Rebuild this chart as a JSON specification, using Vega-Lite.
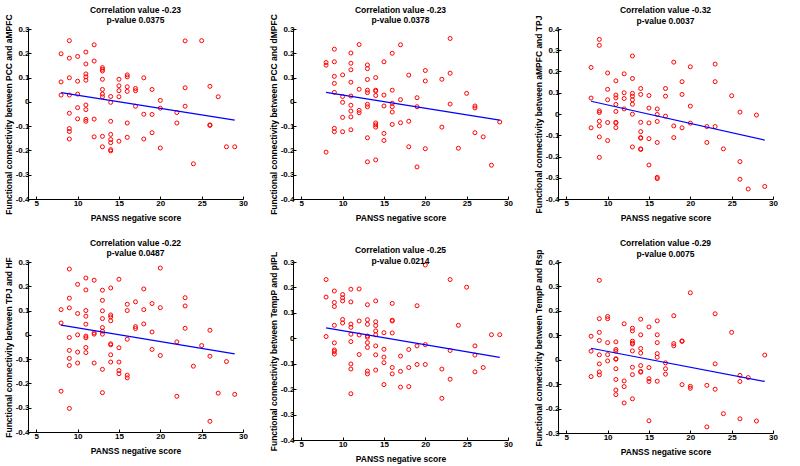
{
  "$schema": "https://vega.github.io/schema/vega-lite/v6.json",
  "padding": {"left": 4, "top": 5, "right": 2, "bottom": 2},
  "background": "white",
  "datasets": {
    "p1": [
      {"score":8,"fc":0.198},{"score":8,"fc":0.082},{"score":8,"fc":0.028},
      {"score":9,"fc":0.252},{"score":9,"fc":0.180},{"score":9,"fc":0.099},{"score":9,"fc":0.028},{"score":9,"fc":-0.047},{"score":9,"fc":-0.110},{"score":9,"fc":-0.122},{"score":9,"fc":-0.153},
      {"score":10,"fc":0.187},{"score":10,"fc":0.085},{"score":10,"fc":0.032},{"score":10,"fc":-0.024},{"score":10,"fc":-0.070},
      {"score":11,"fc":0.205},{"score":11,"fc":0.156},{"score":11,"fc":0.115},{"score":11,"fc":0.103},{"score":11,"fc":0.089},{"score":11,"fc":-0.013},{"score":11,"fc":-0.032},{"score":11,"fc":-0.072},{"score":11,"fc":-0.080},
      {"score":12,"fc":0.235},{"score":12,"fc":0.168},{"score":12,"fc":-0.071},{"score":12,"fc":-0.144},
      {"score":13,"fc":0.141},{"score":13,"fc":0.134},{"score":13,"fc":0.127},{"score":13,"fc":0.093},{"score":13,"fc":0.051},{"score":13,"fc":0.032},{"score":13,"fc":0.021},{"score":13,"fc":-0.142},{"score":13,"fc":-0.185},
      {"score":14,"fc":0.022},{"score":14,"fc":-0.002},{"score":14,"fc":-0.080},{"score":14,"fc":-0.134},{"score":14,"fc":-0.155},{"score":14,"fc":-0.168},{"score":14,"fc":-0.197},{"score":14,"fc":-0.202},
      {"score":15,"fc":0.093},{"score":15,"fc":0.066},{"score":15,"fc":0.046},{"score":15,"fc":0.021},{"score":15,"fc":-0.162},
      {"score":16,"fc":0.111},{"score":16,"fc":0.103},{"score":16,"fc":0.062},{"score":16,"fc":0.043},{"score":16,"fc":-0.087},{"score":16,"fc":-0.146},
      {"score":17,"fc":0.055},{"score":17,"fc":0.046},{"score":17,"fc":-0.018},
      {"score":18,"fc":0.099},{"score":18,"fc":-0.051},{"score":18,"fc":-0.153},
      {"score":19,"fc":0.051},{"score":19,"fc":-0.052},{"score":19,"fc":-0.127},
      {"score":20,"fc":0.006},{"score":20,"fc":-0.026},{"score":20,"fc":-0.190},
      {"score":22,"fc":-0.044},{"score":22,"fc":-0.087},
      {"score":23,"fc":0.251},{"score":23,"fc":0.058},{"score":23,"fc":-0.018},
      {"score":24,"fc":-0.255},
      {"score":25,"fc":0.252},
      {"score":26,"fc":0.064},{"score":26,"fc":-0.095},{"score":26,"fc":-0.097},
      {"score":27,"fc":0.021},
      {"score":28,"fc":-0.185},
      {"score":29,"fc":-0.185}
    ],
    "p2": [
      {"score":8,"fc":0.162},{"score":8,"fc":0.151},{"score":8,"fc":-0.207},
      {"score":9,"fc":0.217},{"score":9,"fc":0.165},{"score":9,"fc":0.105},{"score":9,"fc":0.076},{"score":9,"fc":0.039},{"score":9,"fc":-0.109},{"score":9,"fc":-0.123},
      {"score":10,"fc":0.111},{"score":10,"fc":0.022},{"score":10,"fc":-0.002},{"score":10,"fc":-0.064},{"score":10,"fc":-0.123},
      {"score":11,"fc":0.201},{"score":11,"fc":0.159},{"score":11,"fc":0.132},{"score":11,"fc":0.081},{"score":11,"fc":0.024},{"score":11,"fc":-0.014},{"score":11,"fc":-0.038},{"score":11,"fc":-0.062},{"score":11,"fc":-0.115},
      {"score":12,"fc":0.236},{"score":12,"fc":0.052},{"score":12,"fc":-0.035},{"score":12,"fc":-0.045},
      {"score":13,"fc":0.152},{"score":13,"fc":0.137},{"score":13,"fc":0.092},{"score":13,"fc":0.048},{"score":13,"fc":0.038},{"score":13,"fc":-0.010},{"score":13,"fc":-0.020},{"score":13,"fc":-0.148},{"score":13,"fc":-0.247},
      {"score":14,"fc":0.100},{"score":14,"fc":0.048},{"score":14,"fc":0.044},{"score":14,"fc":0.026},{"score":14,"fc":-0.087},{"score":14,"fc":-0.095},{"score":14,"fc":-0.104},{"score":14,"fc":-0.239},
      {"score":15,"fc":0.165},{"score":15,"fc":0.028},{"score":15,"fc":-0.017},{"score":15,"fc":-0.130},{"score":15,"fc":-0.159},
      {"score":16,"fc":0.200},{"score":16,"fc":0.048},{"score":16,"fc":-0.006},{"score":16,"fc":-0.020},{"score":16,"fc":-0.042},{"score":16,"fc":-0.093},
      {"score":17,"fc":0.235},{"score":17,"fc":0.009},{"score":17,"fc":-0.086},
      {"score":18,"fc":0.110},{"score":18,"fc":-0.080},{"score":18,"fc":-0.185},
      {"score":19,"fc":0.017},{"score":19,"fc":-0.020},{"score":19,"fc":-0.268},
      {"score":20,"fc":0.129},{"score":20,"fc":0.086},{"score":20,"fc":-0.193},
      {"score":22,"fc":0.093},{"score":22,"fc":-0.104},
      {"score":23,"fc":0.261},{"score":23,"fc":0.118},{"score":23,"fc":-0.009},
      {"score":24,"fc":-0.191},
      {"score":25,"fc":0.035},
      {"score":26,"fc":-0.017},{"score":26,"fc":-0.025},{"score":26,"fc":-0.127},
      {"score":27,"fc":-0.144},
      {"score":28,"fc":-0.261},
      {"score":29,"fc":-0.083}
    ],
    "p3": [
      {"score":8,"fc":0.219},{"score":8,"fc":0.075},{"score":8,"fc":-0.065},
      {"score":9,"fc":0.351},{"score":9,"fc":0.323},{"score":9,"fc":0.015},{"score":9,"fc":0.007},{"score":9,"fc":-0.034},{"score":9,"fc":-0.056},{"score":9,"fc":-0.108},{"score":9,"fc":-0.204},
      {"score":10,"fc":0.193},{"score":10,"fc":0.116},{"score":10,"fc":0.067},{"score":10,"fc":-0.040},{"score":10,"fc":-0.125},
      {"score":11,"fc":0.156},{"score":11,"fc":0.089},{"score":11,"fc":0.076},{"score":11,"fc":0.045},{"score":11,"fc":0.012},{"score":11,"fc":-0.039},{"score":11,"fc":-0.042},{"score":11,"fc":-0.064},
      {"score":12,"fc":0.189},{"score":12,"fc":0.100},{"score":12,"fc":0.073},{"score":12,"fc":0.024},
      {"score":13,"fc":0.273},{"score":13,"fc":0.167},{"score":13,"fc":0.097},{"score":13,"fc":0.084},{"score":13,"fc":0.067},{"score":13,"fc":0.046},{"score":13,"fc":-0.001},{"score":13,"fc":-0.155},
      {"score":14,"fc":0.120},{"score":14,"fc":0.092},{"score":14,"fc":-0.039},{"score":14,"fc":-0.083},{"score":14,"fc":-0.111},{"score":14,"fc":-0.114},{"score":14,"fc":-0.164},{"score":14,"fc":-0.167},
      {"score":15,"fc":0.087},{"score":15,"fc":0.028},{"score":15,"fc":-0.042},{"score":15,"fc":-0.116},{"score":15,"fc":-0.240},
      {"score":16,"fc":0.024},{"score":16,"fc":-0.002},{"score":16,"fc":-0.035},{"score":16,"fc":-0.134},{"score":16,"fc":-0.298},{"score":16,"fc":-0.304},
      {"score":17,"fc":0.120},{"score":17,"fc":0.084},{"score":17,"fc":-0.010},
      {"score":18,"fc":0.244},{"score":18,"fc":-0.056},{"score":18,"fc":-0.111},
      {"score":19,"fc":0.152},{"score":19,"fc":0.092},{"score":19,"fc":-0.065},
      {"score":20,"fc":0.222},{"score":20,"fc":0.037},{"score":20,"fc":-0.043},
      {"score":22,"fc":-0.059},{"score":22,"fc":-0.134},
      {"score":23,"fc":0.235},{"score":23,"fc":0.152},{"score":23,"fc":-0.059},
      {"score":24,"fc":-0.164},
      {"score":25,"fc":0.086},
      {"score":26,"fc":0.009},{"score":26,"fc":-0.224},{"score":26,"fc":-0.307},
      {"score":27,"fc":-0.353},
      {"score":28,"fc":-0.005},
      {"score":29,"fc":-0.341}
    ],
    "p4": [
      {"score":8,"fc":0.104},{"score":8,"fc":0.049},{"score":8,"fc":-0.232},
      {"score":9,"fc":0.271},{"score":9,"fc":0.151},{"score":9,"fc":0.111},{"score":9,"fc":-0.011},{"score":9,"fc":-0.064},{"score":9,"fc":-0.097},{"score":9,"fc":-0.126},{"score":9,"fc":-0.303},
      {"score":10,"fc":0.208},{"score":10,"fc":0.088},{"score":10,"fc":0.000},{"score":10,"fc":-0.071},{"score":10,"fc":-0.116},
      {"score":11,"fc":0.234},{"score":11,"fc":0.185},{"score":11,"fc":0.100},{"score":11,"fc":0.077},{"score":11,"fc":0.044},{"score":11,"fc":-0.005},{"score":11,"fc":-0.012},{"score":11,"fc":-0.052},{"score":11,"fc":-0.073},
      {"score":12,"fc":0.225},{"score":12,"fc":0.008},{"score":12,"fc":0.003},{"score":12,"fc":-0.116},
      {"score":13,"fc":0.184},{"score":13,"fc":0.142},{"score":13,"fc":0.099},{"score":13,"fc":0.067},{"score":13,"fc":0.030},{"score":13,"fc":0.015},{"score":13,"fc":0.003},{"score":13,"fc":-0.142},{"score":13,"fc":-0.238},
      {"score":14,"fc":0.193},{"score":14,"fc":0.082},{"score":14,"fc":0.074},{"score":14,"fc":0.058},{"score":14,"fc":-0.037},{"score":14,"fc":-0.041},{"score":14,"fc":-0.082},{"score":14,"fc":-0.112},
      {"score":15,"fc":0.229},{"score":15,"fc":-0.053},{"score":15,"fc":-0.112},{"score":15,"fc":-0.147},{"score":15,"fc":-0.160},
      {"score":16,"fc":0.126},{"score":16,"fc":0.100},{"score":16,"fc":-0.018},{"score":16,"fc":-0.166},{"score":16,"fc":-0.177},
      {"score":17,"fc":0.136},{"score":17,"fc":0.034},{"score":17,"fc":0.026},
      {"score":18,"fc":0.189},{"score":18,"fc":0.104},{"score":18,"fc":0.045},
      {"score":19,"fc":0.129},{"score":19,"fc":0.012},{"score":19,"fc":-0.060},
      {"score":20,"fc":0.275},{"score":20,"fc":0.112},{"score":20,"fc":-0.085},
      {"score":22,"fc":-0.029},{"score":22,"fc":-0.253},
      {"score":23,"fc":0.153},{"score":23,"fc":0.119},{"score":23,"fc":0.027},
      {"score":24,"fc":-0.129},
      {"score":25,"fc":-0.044},
      {"score":26,"fc":0.019},{"score":26,"fc":-0.088},{"score":26,"fc":-0.356},
      {"score":27,"fc":-0.240},
      {"score":28,"fc":-0.110},
      {"score":29,"fc":-0.245}
    ],
    "p5": [
      {"score":8,"fc":0.231},{"score":8,"fc":0.162},{"score":8,"fc":0.007},
      {"score":9,"fc":0.186},{"score":9,"fc":0.141},{"score":9,"fc":0.125},{"score":9,"fc":0.051},{"score":9,"fc":-0.018},{"score":9,"fc":-0.046},{"score":9,"fc":-0.052},{"score":9,"fc":-0.062},
      {"score":10,"fc":0.172},{"score":10,"fc":0.159},{"score":10,"fc":0.147},{"score":10,"fc":0.074},{"score":10,"fc":0.060},
      {"score":11,"fc":0.193},{"score":11,"fc":0.143},{"score":11,"fc":0.056},{"score":11,"fc":0.043},{"score":11,"fc":0.016},{"score":11,"fc":-0.013},{"score":11,"fc":-0.101},{"score":11,"fc":-0.121},{"score":11,"fc":-0.218},
      {"score":12,"fc":0.194},{"score":12,"fc":0.068},{"score":12,"fc":0.013},{"score":12,"fc":-0.064},
      {"score":13,"fc":0.132},{"score":13,"fc":0.073},{"score":13,"fc":0.055},{"score":13,"fc":0.009},{"score":13,"fc":0.004},{"score":13,"fc":-0.017},{"score":13,"fc":-0.036},{"score":13,"fc":-0.129},{"score":13,"fc":-0.140},
      {"score":14,"fc":0.147},{"score":14,"fc":0.065},{"score":14,"fc":0.050},{"score":14,"fc":0.029},{"score":14,"fc":0.014},{"score":14,"fc":-0.030},{"score":14,"fc":-0.065},{"score":14,"fc":-0.125},
      {"score":15,"fc":0.022},{"score":15,"fc":-0.043},{"score":15,"fc":-0.074},{"score":15,"fc":-0.096},{"score":15,"fc":-0.182},
      {"score":16,"fc":0.137},{"score":16,"fc":0.071},{"score":16,"fc":0.068},{"score":16,"fc":0.021},{"score":16,"fc":-0.115},{"score":16,"fc":-0.140},
      {"score":17,"fc":-0.070},{"score":17,"fc":-0.130},{"score":17,"fc":-0.192},
      {"score":18,"fc":-0.044},{"score":18,"fc":-0.115},{"score":18,"fc":-0.190},
      {"score":19,"fc":0.128},{"score":19,"fc":-0.030},{"score":19,"fc":-0.103},
      {"score":20,"fc":0.288},{"score":20,"fc":-0.025},{"score":20,"fc":-0.103},
      {"score":22,"fc":-0.121},{"score":22,"fc":-0.236},
      {"score":23,"fc":0.231},{"score":23,"fc":-0.048},{"score":23,"fc":-0.161},
      {"score":24,"fc":0.051},
      {"score":25,"fc":0.201},
      {"score":26,"fc":-0.030},{"score":26,"fc":-0.066},{"score":26,"fc":-0.132},
      {"score":27,"fc":-0.115},
      {"score":28,"fc":0.014},
      {"score":29,"fc":0.014}
    ],
    "p6": [
      {"score":8,"fc":0.096},{"score":8,"fc":0.035},{"score":8,"fc":-0.069},
      {"score":9,"fc":0.325},{"score":9,"fc":0.168},{"score":9,"fc":0.112},{"score":9,"fc":0.079},{"score":9,"fc":0.020},{"score":9,"fc":-0.017},{"score":9,"fc":-0.050},{"score":9,"fc":-0.062},
      {"score":10,"fc":0.177},{"score":10,"fc":0.168},{"score":10,"fc":0.070},{"score":10,"fc":0.021},{"score":10,"fc":-0.005},
      {"score":11,"fc":0.073},{"score":11,"fc":0.042},{"score":11,"fc":0.035},{"score":11,"fc":0.004},{"score":11,"fc":0.002},{"score":11,"fc":-0.037},{"score":11,"fc":-0.081},{"score":11,"fc":-0.124},{"score":11,"fc":-0.143},
      {"score":12,"fc":0.147},{"score":12,"fc":-0.087},{"score":12,"fc":-0.110},{"score":12,"fc":-0.177},
      {"score":13,"fc":0.129},{"score":13,"fc":0.118},{"score":13,"fc":0.076},{"score":13,"fc":0.068},{"score":13,"fc":0.064},{"score":13,"fc":0.036},{"score":13,"fc":-0.031},{"score":13,"fc":-0.061},{"score":13,"fc":-0.160},
      {"score":14,"fc":0.166},{"score":14,"fc":0.102},{"score":14,"fc":0.046},{"score":14,"fc":0.027},{"score":14,"fc":-0.024},{"score":14,"fc":-0.048},{"score":14,"fc":-0.051},
      {"score":15,"fc":0.134},{"score":15,"fc":-0.032},{"score":15,"fc":-0.078},{"score":15,"fc":-0.089},{"score":15,"fc":-0.250},
      {"score":16,"fc":0.159},{"score":16,"fc":0.102},{"score":16,"fc":0.070},{"score":16,"fc":0.025},{"score":16,"fc":0.010},{"score":16,"fc":-0.088},
      {"score":17,"fc":-0.013},{"score":17,"fc":-0.037},{"score":17,"fc":-0.059},
      {"score":18,"fc":0.180},{"score":18,"fc":0.066},{"score":18,"fc":0.057},
      {"score":19,"fc":0.077},{"score":19,"fc":0.075},{"score":19,"fc":-0.102},
      {"score":20,"fc":0.274},{"score":20,"fc":-0.109},{"score":20,"fc":-0.117},
      {"score":22,"fc":-0.105},{"score":22,"fc":-0.275},
      {"score":23,"fc":0.188},{"score":23,"fc":-0.017},{"score":23,"fc":-0.121},
      {"score":24,"fc":-0.221},
      {"score":25,"fc":0.112},
      {"score":26,"fc":-0.064},{"score":26,"fc":-0.089},{"score":26,"fc":-0.242},
      {"score":27,"fc":-0.073},
      {"score":28,"fc":-0.251},
      {"score":29,"fc":0.019}
    ],
    "l1": [{"score":8,"fc":0.038},{"score":29,"fc":-0.075}],
    "l2": [{"score":8,"fc":0.039},{"score":29,"fc":-0.075}],
    "l3": [{"score":8,"fc":0.060},{"score":29,"fc":-0.123}],
    "l4": [{"score":8,"fc":0.040},{"score":29,"fc":-0.078}],
    "l5": [{"score":8,"fc":0.041},{"score":29,"fc":-0.075}],
    "l6": [{"score":8,"fc":0.047},{"score":29,"fc":-0.089}]
  },
  "config": {
    "view": {"stroke": null},
    "font": "Liberation Sans",
    "axis": {
      "grid": false,
      "domainColor": "black",
      "domainWidth": 1,
      "tickColor": "black",
      "tickWidth": 1,
      "tickSize": -3,
      "labelPadding": 2,
      "labelColor": "black",
      "labelFont": "Liberation Sans",
      "labelFontWeight": "bold",
      "labelFontSize": 8,
      "labelFlush": false,
      "labelOverlap": false,
      "titleColor": "black",
      "titleFont": "Liberation Sans",
      "titleFontWeight": "bold",
      "titleFontSize": 8.5
    },
    "axisX": {"titlePadding": 6, "labelPadding": 3},
    "axisY": {"titlePadding": 2},
    "title": {
      "font": "Liberation Sans",
      "fontSize": 8.5,
      "fontWeight": "bold",
      "color": "black",
      "lineHeight": 10.5,
      "frame": "group",
      "anchor": "middle"
    }
  },
  "spacing": 16,
  "vconcat": [
    {
      "spacing": 21,
      "hconcat": [
        {
          "width": 215, "height": 170,
          "title": {"text": ["Correlation value -0.23", "p-value 0.0375"], "offset": -11},
          "layer": [
            {"data": {"name": "p1"}, "mark": {"type": "point", "shape": "circle", "filled": false, "color": "#ff0000", "size": 16, "strokeWidth": 1, "opacity": 1},
             "encoding": {
               "x": {"field": "score", "type": "quantitative", "scale": {"domain": [5, 30]}, "axis": {"values": [5, 10, 15, 20, 25, 30], "tickCount": 10, "labelOverlap": false, "title": "PANSS negative score"}},
               "y": {"field": "fc", "type": "quantitative", "scale": {"domain": [-0.4, 0.3]}, "axis": {"values": [-0.4, -0.3, -0.2, -0.1, 0, 0.1, 0.2, 0.3], "tickCount": 12, "labelOverlap": false, "labelExpr": "toString(round(datum.value*10)/10)", "title": "Functional connectivity between PCC and aMPFC"}}
             }},
            {"data": {"name": "l1"}, "mark": {"type": "line", "color": "#0000ff", "strokeWidth": 1.2},
             "encoding": {"x": {"field": "score", "type": "quantitative"}, "y": {"field": "fc", "type": "quantitative"}}}
          ]
        },
        {
          "width": 215, "height": 170,
          "title": {"text": ["Correlation value -0.23", "p-value 0.0378"], "offset": -11},
          "layer": [
            {"data": {"name": "p2"}, "mark": {"type": "point", "shape": "circle", "filled": false, "color": "#ff0000", "size": 16, "strokeWidth": 1, "opacity": 1},
             "encoding": {
               "x": {"field": "score", "type": "quantitative", "scale": {"domain": [5, 30]}, "axis": {"values": [5, 10, 15, 20, 25, 30], "tickCount": 10, "labelOverlap": false, "title": "PANSS negative score"}},
               "y": {"field": "fc", "type": "quantitative", "scale": {"domain": [-0.4, 0.3]}, "axis": {"values": [-0.4, -0.3, -0.2, -0.1, 0, 0.1, 0.2, 0.3], "tickCount": 12, "labelOverlap": false, "labelExpr": "toString(round(datum.value*10)/10)", "title": "Functional connectivity between PCC and dMPFC"}}
             }},
            {"data": {"name": "l2"}, "mark": {"type": "line", "color": "#0000ff", "strokeWidth": 1.2},
             "encoding": {"x": {"field": "score", "type": "quantitative"}, "y": {"field": "fc", "type": "quantitative"}}}
          ]
        },
        {
          "width": 215, "height": 170,
          "title": {"text": ["Correlation value -0.32", "p-value 0.0037"], "offset": -10},
          "layer": [
            {"data": {"name": "p3"}, "mark": {"type": "point", "shape": "circle", "filled": false, "color": "#ff0000", "size": 16, "strokeWidth": 1, "opacity": 1},
             "encoding": {
               "x": {"field": "score", "type": "quantitative", "scale": {"domain": [5, 30]}, "axis": {"values": [5, 10, 15, 20, 25, 30], "tickCount": 10, "labelOverlap": false, "title": "PANSS negative score"}},
               "y": {"field": "fc", "type": "quantitative", "scale": {"domain": [-0.4, 0.4]}, "axis": {"values": [-0.4, -0.3, -0.2, -0.1, 0, 0.1, 0.2, 0.3, 0.4], "tickCount": 12, "labelOverlap": false, "labelExpr": "toString(round(datum.value*10)/10)", "title": "Functional connectivity between aMPFC and TPJ"}}
             }},
            {"data": {"name": "l3"}, "mark": {"type": "line", "color": "#0000ff", "strokeWidth": 1.2},
             "encoding": {"x": {"field": "score", "type": "quantitative"}, "y": {"field": "fc", "type": "quantitative"}}}
          ]
        }
      ]
    },
    {
      "spacing": 21,
      "hconcat": [
        {
          "width": 215, "height": 170,
          "title": {"text": ["Correlation value -0.22", "p-value 0.0487"], "offset": -1},
          "layer": [
            {"data": {"name": "p4"}, "mark": {"type": "point", "shape": "circle", "filled": false, "color": "#ff0000", "size": 16, "strokeWidth": 1, "opacity": 1},
             "encoding": {
               "x": {"field": "score", "type": "quantitative", "scale": {"domain": [5, 30]}, "axis": {"values": [5, 10, 15, 20, 25, 30], "tickCount": 10, "labelOverlap": false, "title": "PANSS negative score"}},
               "y": {"field": "fc", "type": "quantitative", "scale": {"domain": [-0.4, 0.3]}, "axis": {"values": [-0.4, -0.3, -0.2, -0.1, 0, 0.1, 0.2, 0.3], "tickCount": 12, "labelOverlap": false, "labelExpr": "toString(round(datum.value*10)/10)", "title": "Functional connectivity between TPJ and HF"}}
             }},
            {"data": {"name": "l4"}, "mark": {"type": "line", "color": "#0000ff", "strokeWidth": 1.2},
             "encoding": {"x": {"field": "score", "type": "quantitative"}, "y": {"field": "fc", "type": "quantitative"}}}
          ]
        },
        {
          "width": 215, "height": 178,
          "title": {"text": ["Correlation value -0.25", "p-value 0.0214"], "offset": -14},
          "layer": [
            {"data": {"name": "p5"}, "mark": {"type": "point", "shape": "circle", "filled": false, "color": "#ff0000", "size": 16, "strokeWidth": 1, "opacity": 1},
             "encoding": {
               "x": {"field": "score", "type": "quantitative", "scale": {"domain": [5, 30]}, "axis": {"values": [5, 10, 15, 20, 25, 30], "tickCount": 10, "labelOverlap": false, "title": "PANSS negative score"}},
               "y": {"field": "fc", "type": "quantitative", "scale": {"domain": [-0.4, 0.3]}, "axis": {"values": [-0.4, -0.3, -0.2, -0.1, 0, 0.1, 0.2, 0.3], "tickCount": 12, "labelOverlap": false, "labelExpr": "toString(round(datum.value*10)/10)", "title": "Functional connectivity between TempP and pIPL"}}
             }},
            {"data": {"name": "l5"}, "mark": {"type": "line", "color": "#0000ff", "strokeWidth": 1.2},
             "encoding": {"x": {"field": "score", "type": "quantitative"}, "y": {"field": "fc", "type": "quantitative"}}}
          ]
        },
        {
          "width": 215, "height": 171,
          "title": {"text": ["Correlation value -0.29", "p-value 0.0075"], "offset": -9.5},
          "layer": [
            {"data": {"name": "p6"}, "mark": {"type": "point", "shape": "circle", "filled": false, "color": "#ff0000", "size": 16, "strokeWidth": 1, "opacity": 1},
             "encoding": {
               "x": {"field": "score", "type": "quantitative", "scale": {"domain": [5, 30]}, "axis": {"values": [5, 10, 15, 20, 25, 30], "tickCount": 10, "labelOverlap": false, "title": "PANSS negative score"}},
               "y": {"field": "fc", "type": "quantitative", "scale": {"domain": [-0.3, 0.4]}, "axis": {"values": [-0.3, -0.2, -0.1, 0, 0.1, 0.2, 0.3, 0.4], "tickCount": 12, "labelOverlap": false, "labelExpr": "toString(round(datum.value*10)/10)", "title": "Functional connectivity between TempP and Rsp"}}
             }},
            {"data": {"name": "l6"}, "mark": {"type": "line", "color": "#0000ff", "strokeWidth": 1.2},
             "encoding": {"x": {"field": "score", "type": "quantitative"}, "y": {"field": "fc", "type": "quantitative"}}}
          ]
        }
      ]
    }
  ]
}
